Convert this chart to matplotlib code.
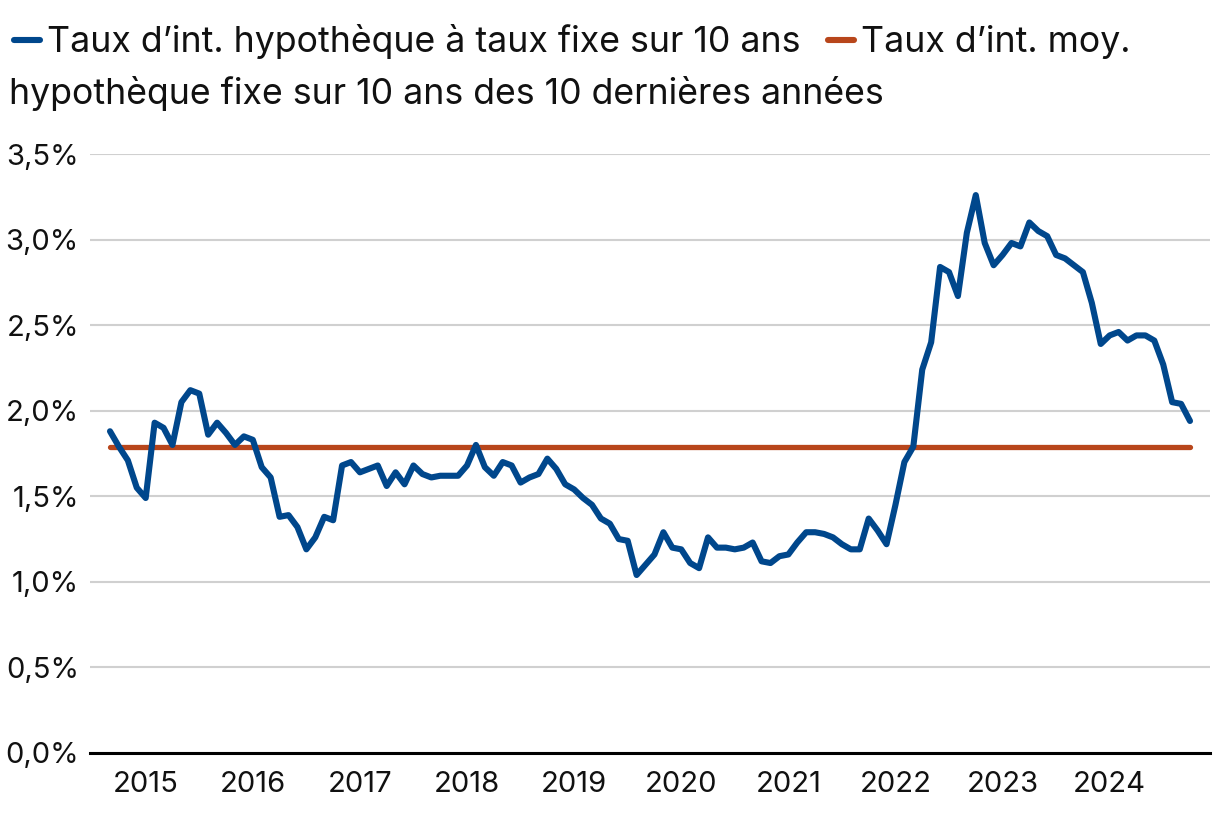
import numpy as np
import pandas as pd
import matplotlib
matplotlib.use("Agg")
import matplotlib.pyplot as plt
from matplotlib.lines import Line2D
from matplotlib.ticker import FuncFormatter

plt.rcParams["font.family"] = ["Inter", "DejaVu Sans"]

# monthly 10-year fixed mortgage rate (%), Sep 2014 - Oct 2024
rates = [
    1.88, 1.79, 1.71, 1.55, 1.49, 1.93, 1.90, 1.80, 2.05, 2.12, 2.10, 1.86,
    1.93, 1.87, 1.80, 1.85, 1.83, 1.67, 1.61, 1.38, 1.39, 1.32, 1.19, 1.26,
    1.38, 1.36, 1.68, 1.70, 1.64, 1.66, 1.68, 1.56, 1.64, 1.57, 1.68, 1.63,
    1.61, 1.62, 1.62, 1.62, 1.68, 1.80, 1.67, 1.62, 1.70, 1.68, 1.58, 1.61,
    1.63, 1.72, 1.66, 1.57, 1.54, 1.49, 1.45, 1.37, 1.34, 1.25, 1.24, 1.04,
    1.10, 1.16, 1.29, 1.20, 1.19, 1.11, 1.08, 1.26, 1.20, 1.20, 1.19, 1.20,
    1.23, 1.12, 1.11, 1.15, 1.16, 1.23, 1.29, 1.29, 1.28, 1.26, 1.22, 1.19,
    1.19, 1.37, 1.30, 1.22, 1.45, 1.70, 1.79, 2.24, 2.40, 2.84, 2.81, 2.67,
    3.04, 3.26, 2.98, 2.85, 2.91, 2.98, 2.96, 3.10, 3.05, 3.02, 2.91, 2.89,
    2.85, 2.81, 2.63, 2.39, 2.44, 2.46, 2.41, 2.44, 2.44, 2.41, 2.27, 2.05,
    2.04, 1.94,
]
avg_rate = 1.79
start_month = "2014-09"

label_rate = "Taux d\u2019int. hypothèque à taux fixe sur 10 ans"
label_avg_1 = "Taux d\u2019int. moy."
label_avg_2 = "hypothèque fixe sur 10 ans des 10 dernières années"

BLUE = "#00478C"
ORANGE = "#B8461B"

months = pd.date_range(start_month, periods=len(rates), freq="MS")
x = np.arange(len(rates))
jan_idx = [i for i, d in enumerate(months) if d.month == 1]
jan_lbl = [str(months[i].year) for i in jan_idx]

fig = plt.figure(figsize=(12.2, 8.16), dpi=100)
ax = fig.add_axes([90 / 1220, 63 / 816, 1120 / 1220, 599 / 816])

ax.plot(x, rates, color=BLUE, lw=4.4, solid_capstyle="round",
        solid_joinstyle="round", zorder=3)
ax.plot(x, [avg_rate] * len(x), color=ORANGE, lw=3.8,
        solid_capstyle="round", zorder=2)

ax.set_ylim(0, 3.5)
ax.set_yticks(np.arange(0, 3.51, 0.5))
ax.yaxis.set_major_formatter(
    FuncFormatter(lambda v, p: f"{v:.1f}".replace(".", ",") + "%"))
ax.set_xlim(-2.24, len(x) - 1 + 2.24)
ax.set_xticks(jan_idx)
ax.set_xticklabels(jan_lbl)

ax.grid(axis="y", color="#d0d0d0", lw=1.5)
ax.set_axisbelow(True)
for s in ["top", "right", "left"]:
    ax.spines[s].set_visible(False)
ax.spines["bottom"].set_linewidth(2.2)
ax.spines["bottom"].set_color("black")
ax.tick_params(axis="both", length=0, labelsize=21, colors="#111111")
ax.tick_params(axis="y", pad=8)
ax.tick_params(axis="x", pad=13)

# legend laid out as wrapped text
def px(xp, yp):
    return xp / 1220, 1 - yp / 816

fig.add_artist(Line2D([14 / 1220, 40 / 1220], [1 - 40 / 816] * 2, color=BLUE,
                      lw=4.4, solid_capstyle="round", transform=fig.transFigure))
fig.text(*px(47, 52), label_rate, fontsize=25.7, va="baseline", color="#111111")
fig.add_artist(Line2D([828 / 1220, 854 / 1220], [1 - 40 / 816] * 2, color=ORANGE,
                      lw=4.4, solid_capstyle="round", transform=fig.transFigure))
fig.text(*px(861, 52), label_avg_1, fontsize=25.7, va="baseline", color="#111111")
fig.text(*px(9, 104), label_avg_2, fontsize=25.7, va="baseline", color="#111111")

fig.savefig("out.png", dpi=100)
